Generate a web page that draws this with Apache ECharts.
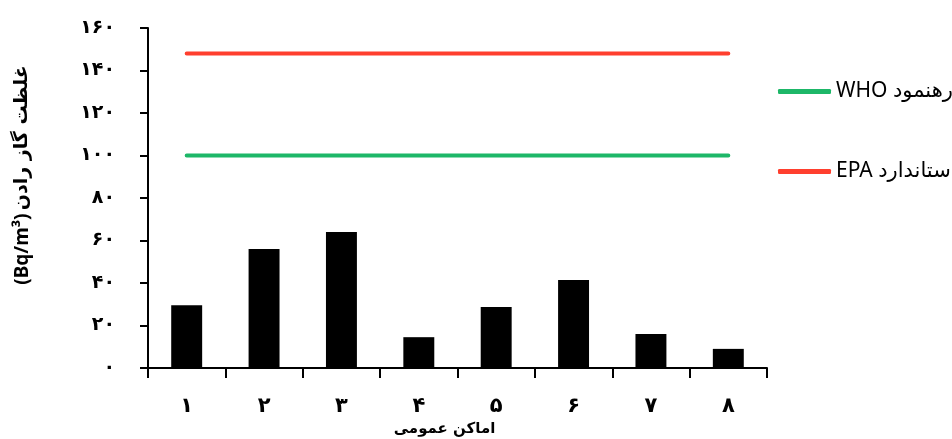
<!DOCTYPE html>
<html>
<head>
<meta charset="utf-8">
<script src="https://cdn.jsdelivr.net/npm/echarts@6/dist/echarts.min.js"></script>
<style>html,body{margin:0;padding:0;background:#fff;}#c{width:952px;height:439px;}</style>
</head>
<body>
<div id="c"></div>
<script>
var categories = ['۱', '۲', '۳', '۴', '۵', '۶', '۷', '۸'];
var radonValues = [29.5, 56, 64, 14.5, 28.7, 41.4, 16, 9];
var whoValues = [100, 100, 100, 100, 100, 100, 100, 100];
var epaValues = [148, 148, 148, 148, 148, 148, 148, 148];
var persianDigits = ['۰','۱','۲','۳','۴','۵','۶','۷','۸','۹'];
function toPersian(v) { return String(v).replace(/[0-9]/g, function (d) { return persianDigits[+d]; }); }

var chart = echarts.init(document.getElementById('c'));
chart.setOption({
  backgroundColor: '#fff',
  animation: false,
  grid: { left: 148, right: 185, top: 28, bottom: 71, containLabel: false, outerBoundsMode: 'none' },
  legend: {
    orient: 'vertical',
    left: 778,
    top: 81,
    padding: 0,
    itemGap: 59,
    itemWidth: 53,
    itemHeight: 5,
    itemTextGap: 4,
    icon: 'roundRect',
    textStyle: { fontSize: 21, color: '#000', fontFamily: 'Noto Sans, DejaVu Sans, sans-serif' },
    data: ['WHO رهنمود', 'EPA استاندارد']
  },
  xAxis: {
    type: 'category',
    data: categories,
    boundaryGap: true,
    name: 'اماکن عمومی',
    nameLocation: 'middle',
    nameGap: 53,
    nameTextStyle: { fontSize: 15, fontWeight: 'bold', color: '#000', fontFamily: 'DejaVu Sans, sans-serif', padding: [0, 26, 0, 0] },
    axisLine: { lineStyle: { color: '#000', width: 2 } },
    axisTick: { show: true, length: 10, lineStyle: { color: '#000', width: 2 } },
    axisLabel: { margin: 28, fontSize: 21, fontWeight: 'bold', color: '#000', fontFamily: 'DejaVu Sans, sans-serif' }
  },
  yAxis: {
    type: 'value',
    min: 0,
    max: 160,
    interval: 20,
    name: '{b|(Bq/m³)} {n|غلظت گاز رادن}',
    nameLocation: 'middle',
    nameGap: 116,
    nameRotate: 90,
    nameTextStyle: {
      color: '#000',
      padding: [0, 0, 0, 46],
      rich: {
        b: { fontSize: 19, fontWeight: 'bold', color: '#000', fontFamily: 'Noto Sans, DejaVu Sans, sans-serif' },
        n: { fontSize: 19, fontWeight: 'bold', color: '#000', fontFamily: 'DejaVu Sans, sans-serif' }
      }
    },
    splitLine: { show: false },
    axisLine: { show: true, lineStyle: { color: '#000', width: 2 } },
    axisTick: { show: true, length: 8, lineStyle: { color: '#000', width: 2 } },
    axisLabel: {
      margin: 33,
      fontSize: 19,
      fontWeight: 'bold',
      color: '#000',
      fontFamily: 'DejaVu Sans, sans-serif',
      formatter: function (v) { return toPersian(v); }
    }
  },
  series: [
    {
      type: 'bar',
      name: 'radon',
      data: radonValues,
      barWidth: '40%',
      itemStyle: { color: '#000' }
    },
    {
      type: 'line',
      name: 'WHO رهنمود',
      data: whoValues,
      symbol: 'none',
      lineStyle: { color: '#1DB768', width: 4, cap: 'round' },
      itemStyle: { color: '#1DB768' }
    },
    {
      type: 'line',
      name: 'EPA استاندارد',
      data: epaValues,
      symbol: 'none',
      lineStyle: { color: '#FF3F2E', width: 4, cap: 'round' },
      itemStyle: { color: '#FF3F2E' }
    }
  ]
});
</script>
</body>
</html>
